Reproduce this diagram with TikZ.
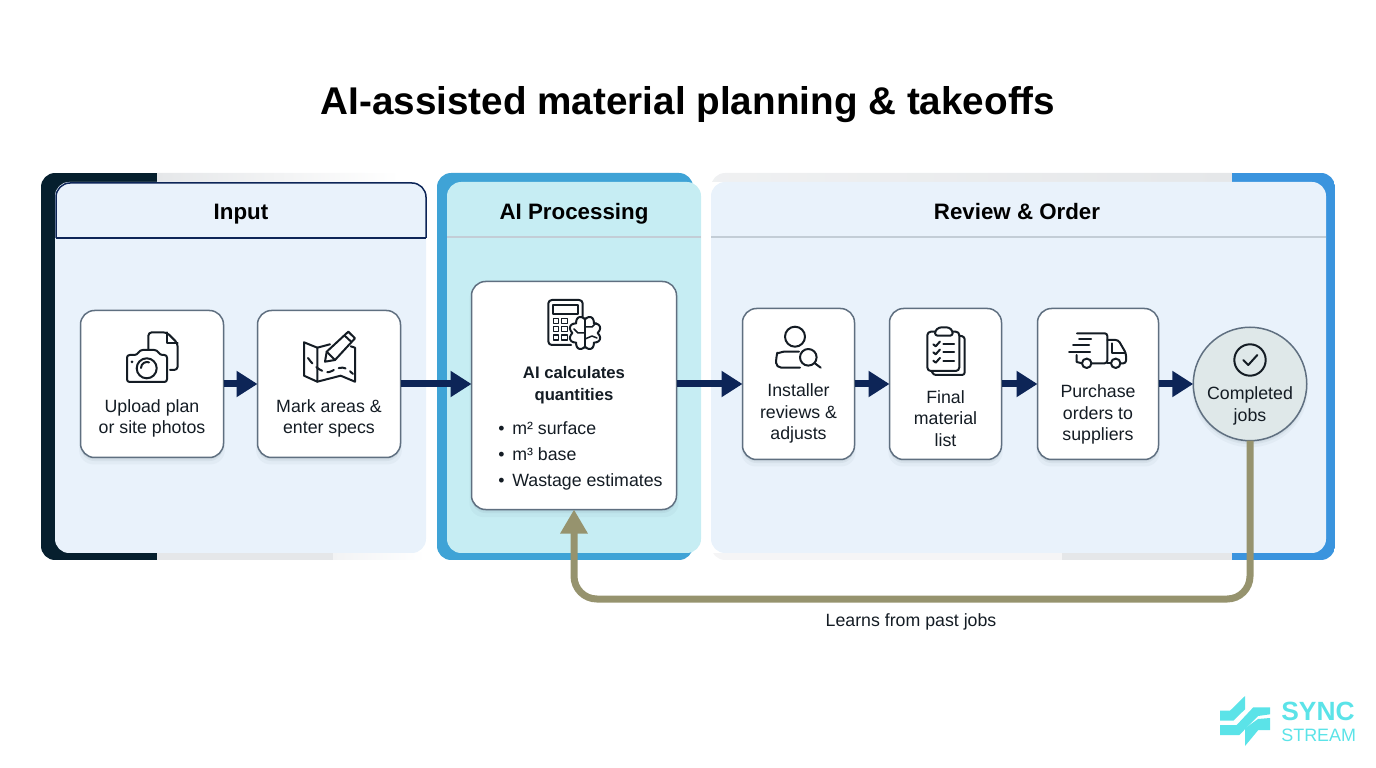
\documentclass[tikz,border=0pt]{standalone}
\usepackage{fontspec}
\setmainfont{Liberation Sans}
\usetikzlibrary{arrows.meta}
\usetikzlibrary{shadows}
\definecolor{navy}{HTML}{0D2557}
\definecolor{olive}{HTML}{96936E}
\definecolor{panelblue}{HTML}{E9F2FB}
\definecolor{panelcyan}{HTML}{C6EDF3}
\definecolor{darkbar}{HTML}{061F2E}
\definecolor{aiblue}{HTML}{3FA3D6}
\definecolor{revblue}{HTML}{3A94DE}
\definecolor{stripgray}{HTML}{E5E7E9}
\definecolor{rulegray}{HTML}{C3CDD6}
\definecolor{cardline}{HTML}{5F6F80}
\definecolor{ink}{HTML}{141C24}
\definecolor{logocyan}{HTML}{5BE3E8}
\definecolor{donefill}{HTML}{DFE8E9}
\tikzset{%
    card/.style={draw=cardline,line width=0.3mm,fill=white,rounded corners=8pt,inner sep=0pt,outer sep=0pt,
        drop shadow={shadow xshift=0pt,shadow yshift=-3pt,shadow scale=1.02,opacity=.05,fill=cardline},
        drop shadow={shadow xshift=0pt,shadow yshift=-2pt,opacity=.08,fill=cardline},
        drop shadow={shadow xshift=0pt,shadow yshift=-1pt,opacity=.08,fill=cardline}},
    done/.style={card,shape=circle,fill=donefill,minimum size=22.7mm},
    cardtext/.style={align=center,text=ink,font=\fontsize{10.1}{12.2}\selectfont,inner sep=0pt},
    boldtext/.style={cardtext,font=\fontsize{9.5}{12.2}\bfseries\selectfont},
    listtext/.style={cardtext,anchor=west},
    heading/.style={text=black,inner sep=0pt,anchor=base,font=\fontsize{12.7}{15}\bfseries\selectfont},
    flow/.style={navy,line width=1.4mm,-{Triangle[length=4.2mm,width=5mm]}},
    feedback/.style={olive,line width=1.4mm,rounded corners=13pt,-{Triangle[length=4.8mm,width=5.2mm]}},
    icon/.style={ink,line width=0.4mm,line cap=round,line join=round},
}
\begin{document}
\begin{tikzpicture}[x=0.2mm,y=-0.2mm]
    \useasboundingbox (0,0) rectangle (1376,768);

    %title
    \node[inner sep=0pt,text=black,font=\fontsize{22}{27}\bfseries\selectfont] (title) at (688,104.5) {AI-assisted material planning \& takeoffs};

    %input panel
    \begin{scope}
        \clip[rounded corners=8pt] (41,173) rectangle (440,560);
        \fill[darkbar] (41,173) rectangle (157,560);
        \shade[left color=stripgray,right color=white] (157,173) rectangle (400,182);
        \fill[stripgray] (157,553) rectangle (333,560);
        \shade[left color=stripgray!50,right color=white] (333,553) rectangle (425,560);
    \end{scope}
    \fill[panelblue,rounded corners=8pt] (55,182) rectangle (426,553);
    \draw[navy,line width=0.3mm,rounded corners=8pt] (56,238) -- (56,183) -- (426,183) -- (426,238);
    \draw[navy,line width=0.3mm] (56,238) -- (426,238);
    \node[heading] (inputhead) at (241,219.5) {Input};

    %ai panel
    \fill[aiblue,rounded corners=8pt] (437,173) rectangle (693,560);
    \fill[panelcyan,rounded corners=8pt] (447,182) rectangle (701,553);
    \draw[rulegray,line width=0.3mm] (447,237) -- (701,237);
    \node[heading] (aihead) at (574,219.5) {AI Processing};

    %review panel
    \begin{scope}
        \clip[rounded corners=8pt] (711,173) rectangle (1335,560);
        \shade[left color=stripgray!60,right color=stripgray] (711,173) rectangle (1232,182);
        \fill[stripgray!40] (711,553) rectangle (1062,560);
        \fill[stripgray] (1062,553) rectangle (1232,560);
        \fill[revblue] (1232,173) rectangle (1335,560);
    \end{scope}
    \fill[panelblue,rounded corners=8pt] (711,182) rectangle (1326,553);
    \draw[rulegray,line width=0.3mm] (711,237) -- (1326,237);
    \node[heading] (reviewhead) at (1017,219.5) {Review \& Order};

    %cards
    \node[card,minimum width=28.6mm,minimum height=29.4mm] (upload) at (152,384) {};
    \node[card,minimum width=28.6mm,minimum height=29.4mm] (mark) at (329,384) {};
    \node[card,minimum width=41mm,minimum height=45.6mm] (ai) at (574,395.5) {};
    \node[card,minimum width=22.4mm,minimum height=30.2mm] (installer) at (798.5,384) {};
    \node[card,minimum width=22.4mm,minimum height=30.2mm] (final) at (945.5,384) {};
    \node[card,minimum width=24.2mm,minimum height=30.2mm] (purchase) at (1098,384) {};
    \node[done] (completed) at (1250,384) {};

    %texts
    \node[cardtext] (uploadtext) at (152,418.5) {Upload plan\\or site photos};
    \node[cardtext] (marktext) at (329,418.5) {Mark areas \&\\enter specs};
    \node[boldtext] (aitext) at (574,385) {AI calculates\\quantities};
    \node[listtext] (item1) at (498,428) {\textbullet\hspace{4.4pt}m² surface};
    \node[listtext] (item2) at (498,454) {\textbullet\hspace{4.4pt}m³ base};
    \node[listtext] (item3) at (498,481.5) {\textbullet\hspace{4.4pt}Wastage estimates};
    \node[cardtext] (installertext) at (798.5,413.5) {Installer\\reviews \&\\adjusts};
    \node[cardtext] (finaltext) at (945.5,418.5) {Final\\material\\list};
    \node[cardtext] (purchasetext) at (1098,414.5) {Purchase\\orders to\\suppliers};
    \node[cardtext] (completedtext) at (1250,406) {Completed\\jobs};

    %arrows
    \draw[flow] (upload.east) -- (mark.west);
    \draw[flow] (mark.east) -- (mark.east -| ai.west);
    \draw[flow] (ai.east |- installer.west) -- (installer.west);
    \draw[flow] (installer.east) -- (final.west);
    \draw[flow] (final.east) -- (purchase.west);
    \draw[flow] (purchase.east) -- (completed.west);

    %feedback
    \coordinate (loopturn) at (900,599);
    \draw[feedback] (completed.south) |- (loopturn) -| (ai.south);
    \node[cardtext] (looptext) at (911,622) {Learns from past jobs};

    %camera
    \draw[icon,fill=white,rounded corners=1.5pt] (127,382) -- (127,355) -- (137,355) -- (140,350) -- (157,350) -- (160,355) -- (167,355) -- (167,382) -- cycle;
    \draw[icon] (146.7,368.3) circle (10);
    \draw[icon] (141,368) arc (180:290:6);
    \fill[ink] (132,362) circle (1.5);
    \draw[icon,rounded corners=2pt] (148.3,350) -- (148.3,332.3) -- (166.7,332.3) -- (177.7,343.3) -- (177.7,370) -- (170,370);
    \draw[icon] (166.7,332.3) -- (166.7,343.3) -- (177.7,343.3);

    %map
    \draw[icon] (304,342.3) -- (317.3,347.7) -- (317.3,381.7) -- (304,375.7) -- cycle;
    \draw[icon] (317.3,347.7) -- (330,344.3);
    \draw[icon] (317.3,381.7) -- (340.7,375.7) -- (355,381.7) -- (355,347.7) -- (350.7,346.3);
    \draw[icon,dashed,dash pattern=on 4pt off 3pt] (308,358) .. controls (315,368) and (325,375) .. (332,371) .. controls (340,366) and (345,366) .. (353,374);
    \draw[icon,fill=white] (325,361.7) -- (326.7,351.7) -- (348.3,331.7) -- (355,338.3) -- (335,360) -- cycle;
    \draw[icon] (326.7,351.7) -- (335,360);
    \draw[icon] (344.5,335.5) -- (351.5,342);

    %calculator
    \draw[icon,rounded corners=2pt] (582.7,319) -- (582.7,300) -- (548.3,300) -- (548.3,345) -- (571,345);
    \draw[icon] (553.3,305) rectangle (578.3,314.3);
    \draw[icon,line width=0.3mm] (553.3,318.3) rectangle (558.3,323.3);
    \draw[icon,line width=0.3mm] (561.5,318.3) rectangle (567.3,323.3);
    \draw[icon,line width=0.3mm] (553.3,326.7) rectangle (558.3,331.7);
    \draw[icon,line width=0.3mm] (561.5,326.7) rectangle (567.3,331.7);
    \draw[icon,line width=0.3mm] (553.3,335) rectangle (558.3,340);
    \draw[icon,line width=0.3mm] (561.5,335) rectangle (567.3,340);

    %brain
    \draw[icon,fill=white,smooth,samples=97,domain=0:360,variable=\t] plot ({585+(12.5+3.5*abs(sin(4*\t)))*cos(\t)},{333+(13.5+3.5*abs(sin(4*\t)))*sin(\t)}) -- cycle;
    \draw[icon,line width=0.3mm] (585,318) -- (585,348);
    \draw[icon,line width=0.3mm] (585,333) -- (578,333) -- (574,329);
    \draw[icon,line width=0.3mm] (585,327) -- (592,327) -- (596,323);
    \draw[icon,line width=0.3mm] (585,339) -- (592,336) -- (597,338);

    %person
    \draw[icon] (795,336.7) circle (10);
    \draw[icon,rounded corners=3pt] (800,367.7) -- (776,367.7) -- (776,358) .. controls (777,354) and (782,351.7) .. (789,351.7) -- (799,351.7);
    \draw[icon] (808.3,357.3) circle (8.3);
    \draw[icon] (814.5,363) -- (820.7,367.7);

    %clipboard
    \draw[icon,rounded corners=2pt] (935,331.7) -- (927.3,331.7) -- (927.3,371) -- (959.3,371) -- (959.3,331.7) -- (952.7,331.7);
    \draw[icon,rounded corners=1.5pt] (935,335.7) -- (935,331) -- (939,327.3) -- (949,327.3) -- (952.7,331) -- (952.7,335.7) -- cycle;
    \draw[icon,rounded corners=1.5pt] (931.7,371) -- (933.3,375) -- (964.7,375) -- (964.7,336.7) -- (959.3,335.7);
    \draw[icon] (933.3,344.3) -- (935.7,346.3) -- (940,341.5);
    \draw[icon] (933.3,352.3) -- (935.7,354.3) -- (940,349.5);
    \draw[icon] (933.3,360.7) -- (935.7,362.7) -- (940,357.9);
    \draw[icon] (943.3,344.3) -- (954,344.3);
    \draw[icon] (943.3,352.3) -- (954,352.3);
    \draw[icon] (943.3,360.7) -- (954,360.7);

    %truck
    \draw[icon,rounded corners=1.5pt] (1077,333.3) -- (1107.3,333.3) -- (1107.3,363.3) -- (1091.3,363.3);
    \draw[icon,rounded corners=1.5pt] (1107.3,340) -- (1118.3,340) -- (1126,353.3) -- (1126,363.3) -- (1120.5,363.3);
    \draw[icon] (1111.7,343.3) -- (1111.7,353.3) -- (1125,353.3);
    \draw[icon] (1086.7,363.3) circle (4.7);
    \draw[icon] (1115.7,363.3) circle (4.7);
    \draw[icon] (1110.9,363.3) -- (1107.3,363.3);
    \draw[icon] (1076.7,355) -- (1076.7,362) -- (1082,363.3);
    \draw[icon] (1079,339) -- (1091,339);
    \draw[icon] (1073,345.5) -- (1089,345.5);
    \draw[icon] (1069,352) -- (1090,352);

    %check
    \draw[icon] (1250,360) circle (15.7);
    \draw[icon] (1243.3,360) -- (1248.3,365) -- (1257.3,355);

    %logo
    \fill[logocyan] (1220,710.7) -- (1230,710.7) -- (1245,696) -- (1245,709.3) -- (1233.3,720.7) -- (1220,720.7) -- cycle;
    \fill[logocyan] (1220,725) -- (1236.7,725) -- (1253.3,707.3) -- (1270,707.3) -- (1270,714.3) -- (1258,716) -- (1239.3,735) -- (1220,735) -- cycle;
    \fill[logocyan] (1245,728.3) -- (1258,719) -- (1270,718) -- (1270,730) -- (1258.3,730) -- (1245,746) -- cycle;
    \node[inner sep=0pt,text=logocyan,anchor=west,font=\fontsize{15}{18}\bfseries\selectfont] (sync) at (1281,711.5) {SYNC};
    \node[inner sep=0pt,text=logocyan,anchor=west,font=\fontsize{10.2}{12}\selectfont] (stream) at (1281,735) {STREAM};
\end{tikzpicture}
\end{document}
